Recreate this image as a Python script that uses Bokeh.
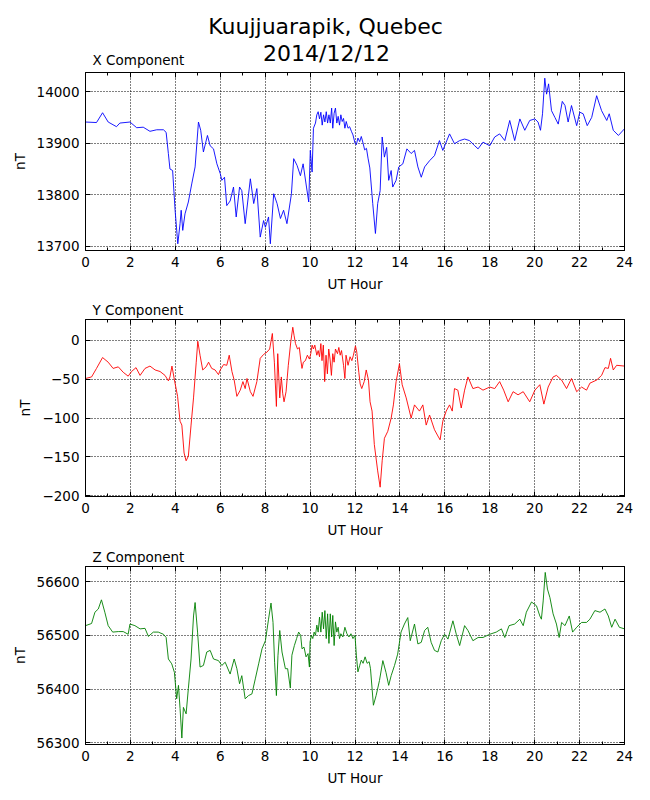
from bokeh.plotting import figure
from bokeh.models import LinearAxis, FixedTicker, Range1d
from bokeh.core.properties import value
from bokeh.layouts import column
from bokeh.embed import file_html
from bokeh.resources import INLINE

TITLE_1 = "Kuujjuarapik, Quebec"
TITLE_2 = "2014/12/12"
PANEL_TITLES = ["X Component", "Y Component", "Z Component"]
X_LABEL = "UT Hour"
Y_LABEL = "nT"

HOUR_TICKS = [0, 2, 4, 6, 8, 10, 12, 14, 16, 18, 20, 22, 24]
HOUR_MINOR = [1, 3, 5, 7, 9, 11, 13, 15, 17, 19, 21, 23]
X_TICKS = [13700, 13800, 13900, 14000]
Y_TICKS = [-200, -150, -100, -50, 0]
Z_TICKS = [56300, 56400, 56500, 56600]
X_LIMITS = (13692, 14037)
Y_LIMITS = (-201, 27)
Z_LIMITS = (56297, 56628)

X_HOURS = ([0.00, 0.49, 0.76, 1.01, 1.38, 1.53, 1.98, 2.28, 2.57, 2.87,
            3.17, 3.47, 3.59, 3.69, 3.76, 3.88, 3.99, 4.11, 4.21, 4.26,
            4.33, 4.43, 4.58, 4.73, 4.88, 5.03, 5.13, 5.25, 5.43, 5.55,
            5.70, 5.85, 6.00, 6.07, 6.19, 6.29, 6.44, 6.59, 6.71, 6.86,
            6.96, 7.11, 7.34, 7.49, 7.63, 7.78, 7.93, 8.01, 8.15, 8.23,
            8.38, 8.53, 8.68, 8.82, 8.97, 9.17, 9.27, 9.42, 9.57, 9.69,
            9.84, 9.94, 10.01, 10.09]
           + [10.15, 10.24, 10.30, 10.36, 10.42, 10.48, 10.54, 10.60, 10.66, 10.72,
              10.78, 10.84, 10.90, 10.96, 11.01, 11.07, 11.13, 11.19, 11.25, 11.31,
              11.37, 11.43, 11.49, 11.55, 11.61, 11.69, 11.76, 11.84, 11.91, 12.00,
              12.06, 12.13, 12.21, 12.28, 12.36, 12.43, 12.51, 12.58, 12.66]
           + [12.79, 12.91, 13.01, 13.12, 13.21, 13.31, 13.41, 13.50, 13.61, 13.68,
              13.83, 13.95, 14.13, 14.31, 14.50, 14.65, 14.80, 14.95, 15.10, 15.32,
              15.54, 15.76, 15.91, 16.06, 16.21, 16.43, 16.66, 16.88, 17.10, 17.33,
              17.48, 17.70, 18.00, 18.22, 18.44, 18.67, 18.89, 19.11, 19.34, 19.56,
              19.78, 20.01, 20.15, 20.26, 20.35, 20.45, 20.53, 20.62, 20.75, 20.90,
              21.05, 21.23, 21.35, 21.49, 21.64, 21.87, 22.01, 22.16, 22.34, 22.54,
              22.76, 22.98, 23.21, 23.32, 23.50, 23.73, 24.00])
X_VALUES = ([13941, 13940, 13959, 13941, 13932, 13939, 13941, 13930, 13931, 13923,
             13926, 13926, 13921, 13880, 13850, 13847, 13770, 13705, 13744, 13770,
             13731, 13763, 13786, 13821, 13854, 13941, 13925, 13883, 13915, 13895,
             13889, 13860, 13841, 13828, 13834, 13779, 13788, 13815, 13757, 13815,
             13808, 13744, 13831, 13783, 13812, 13718, 13750, 13737, 13757, 13705,
             13802, 13783, 13754, 13770, 13744, 13802, 13870, 13857, 13837, 13860,
             13815, 13786, 13886, 13844]
            + [13929, 13939, 13955, 13961, 13947, 13960, 13935, 13955, 13941, 13961,
               13939, 13955, 13939, 13968, 13929, 13958, 13968, 13939, 13952, 13935,
               13955, 13942, 13948, 13929, 13942, 13929, 13932, 13923, 13916, 13900,
               13897, 13910, 13903, 13913, 13900, 13887, 13890, 13871, 13852]
            + [13783, 13725, 13783, 13808, 13912, 13873, 13892, 13828, 13847, 13815,
               13828, 13854, 13860, 13889, 13880, 13886, 13854, 13834, 13854, 13866,
               13876, 13905, 13886, 13902, 13918, 13899, 13905, 13908, 13905, 13895,
               13889, 13902, 13895, 13912, 13918, 13905, 13944, 13905, 13947, 13925,
               13944, 13947, 13941, 13925, 13957, 14026, 13995, 14015, 13963, 13950,
               13937, 13981, 13973, 13941, 13973, 13934, 13960, 13957, 13934, 13950,
               13992, 13963, 13944, 13957, 13925, 13915, 13928])

Y_HOURS = ([0.00, 0.27, 0.49, 0.76, 1.01, 1.23, 1.46, 1.68, 1.90, 2.05,
            2.25, 2.43, 2.65, 2.87, 3.10, 3.32, 3.54, 3.69, 3.76, 3.85,
            3.96, 4.10, 4.21, 4.29, 4.39, 4.48, 4.58, 4.70, 4.81, 4.93,
            5.00, 5.10, 5.22, 5.37, 5.48, 5.62, 5.77, 5.92, 6.00, 6.15,
            6.29, 6.40, 6.52, 6.62, 6.74, 6.89, 7.01, 7.11, 7.19, 7.34,
            7.46, 7.63, 7.78, 7.93, 8.08, 8.20, 8.32, 8.41, 8.50, 8.56,
            8.65]
           + [8.72, 8.78, 8.84, 8.93, 9.03, 9.14, 9.23, 9.29, 9.35, 9.44,
              9.52, 9.58, 9.64, 9.70, 9.79, 9.88, 9.97, 10.03, 10.09, 10.15,
              10.21, 10.30, 10.36, 10.42, 10.48, 10.53, 10.59, 10.65, 10.71, 10.77,
              10.83, 10.89, 10.95, 11.01, 11.07, 11.13, 11.22, 11.28, 11.34, 11.40,
              11.49, 11.55, 11.60, 11.69, 11.78, 11.86, 11.93, 12.02, 12.08, 12.17,
              12.23, 12.30, 12.41, 12.50, 12.60, 12.67]
           + [12.76, 12.86, 13.01, 13.12, 13.21, 13.31, 13.46, 13.61, 13.71, 13.83,
              13.98, 14.10, 14.28, 14.50, 14.65, 14.87, 15.02, 15.17, 15.32, 15.54,
              15.69, 15.79, 15.91, 16.06, 16.21, 16.33, 16.43, 16.58, 16.73, 16.88,
              17.03, 17.25, 17.48, 17.70, 18.00, 18.22, 18.44, 18.62, 18.82, 19.04,
              19.26, 19.49, 19.78, 20.01, 20.23, 20.41, 20.60, 20.82, 20.97, 21.20,
              21.42, 21.64, 21.87, 22.09, 22.31, 22.46, 22.76, 22.98, 23.13, 23.28,
              23.38, 23.50, 23.65, 24.00])
Y_VALUES = ([-49, -47, -36, -22, -28, -36, -34, -41, -46, -40,
             -35, -45, -36, -33, -38, -40, -45, -52, -47, -33,
             -51, -72, -104, -109, -145, -155, -149, -109, -74, -28,
             -1, -19, -38, -34, -28, -36, -38, -44, -38, -31,
             -32, -19, -40, -51, -72, -64, -53, -62, -49, -66,
             -72, -53, -23, -18, -15, -11, 9, -28, -85, -17,
             -74]
            + [-47, -68, -79, -66, -32, -2, 17, 6, -4, -11,
               -9, -24, -36, -28, -26, -19, -24, -17, -6, -11,
               -6, -19, -13, -21, -4, -26, -6, -53, -19, -43,
               -11, -24, -45, -17, -28, -11, -17, -9, -19, -13,
               -32, -49, -19, -32, -21, -26, -19, -7, -15, -41,
               -56, -62, -53, -38, -51, -79]
            + [-91, -134, -168, -189, -155, -126, -117, -100, -83, -53,
               -30, -57, -74, -100, -83, -91, -83, -109, -96, -115,
               -123, -128, -104, -91, -83, -91, -62, -64, -87, -64,
               -47, -62, -60, -64, -60, -62, -53, -64, -79, -66,
               -70, -66, -79, -64, -57, -82, -60, -47, -45, -51,
               -62, -49, -66, -60, -64, -55, -51, -45, -35, -36,
               -23, -38, -32, -33])

Z_HOURS = ([0.00, 0.27, 0.42, 0.57, 0.71, 0.86, 1.01, 1.21, 1.46, 1.68,
            1.90, 1.98, 2.20, 2.43, 2.65, 2.80, 3.02, 3.24, 3.47, 3.59,
            3.69, 3.84, 3.96, 4.06, 4.14, 4.21, 4.29, 4.36, 4.48, 4.58,
            4.70, 4.81, 4.88, 4.99, 5.10, 5.25, 5.40, 5.55, 5.70, 5.92,
            6.07, 6.22, 6.44, 6.62, 6.74, 6.86, 6.96, 7.11, 7.26, 7.41,
            7.56, 7.71, 7.86, 8.01, 8.15, 8.26, 8.35, 8.42, 8.50, 8.57,
            8.65, 8.75, 8.90, 9.00, 9.12]
           + [9.19, 9.30, 9.40, 9.49, 9.58, 9.64, 9.73, 9.82, 9.91, 9.97,
              10.00, 10.06, 10.12, 10.18, 10.24, 10.30, 10.36, 10.42, 10.48, 10.54,
              10.60, 10.66, 10.72, 10.78, 10.84, 10.90, 10.96, 11.01, 11.07, 11.13,
              11.19, 11.25, 11.31, 11.37, 11.46, 11.55, 11.64, 11.73, 11.82, 11.91,
              12.00, 12.06, 12.13, 12.21, 12.28, 12.36, 12.45, 12.54, 12.63, 12.69]
           + [12.82, 12.94, 13.09, 13.24, 13.38, 13.50, 13.61, 13.76, 13.90, 14.05,
              14.20, 14.35, 14.46, 14.65, 14.80, 14.95, 15.10, 15.24, 15.39, 15.54,
              15.69, 15.84, 15.99, 16.14, 16.36, 16.51, 16.66, 16.88, 17.03, 17.25,
              17.48, 17.70, 18.00, 18.29, 18.52, 18.67, 18.86, 19.11, 19.34, 19.49,
              19.63, 19.86, 20.08, 20.23, 20.30, 20.38, 20.47, 20.57, 20.68, 20.82,
              20.97, 21.09, 21.20, 21.35, 21.54, 21.69, 21.87, 22.09, 22.31, 22.46,
              22.68, 22.91, 23.13, 23.28, 23.43, 23.58, 23.77, 24.00])
Z_VALUES = ([56518, 56522, 56543, 56549, 56566, 56543, 56518, 56506, 56507, 56507,
             56502, 56521, 56518, 56512, 56513, 56498, 56506, 56506, 56502, 56496,
             56456, 56447, 56431, 56382, 56407, 56364, 56309, 56366, 56354, 56401,
             56456, 56536, 56561, 56506, 56441, 56444, 56469, 56472, 56456, 56453,
             56444, 56450, 56428, 56456, 56438, 56410, 56425, 56382, 56388, 56391,
             56419, 56447, 56475, 56490, 56530, 56560, 56524, 56450, 56388, 56462,
             56509, 56469, 56438, 56438, 56402]
            + [56463, 56481, 56494, 56506, 56500, 56475, 56478, 56460, 56466, 56441,
               56488, 56500, 56494, 56506, 56500, 56519, 56506, 56534, 56506, 56543,
               56512, 56546, 56494, 56540, 56485, 56540, 56497, 56537, 56481, 56525,
               56506, 56515, 56494, 56503, 56497, 56515, 56503, 56497, 56503, 56494,
               56500, 56463, 56432, 56444, 56454, 56448, 56460, 56448, 56451, 56438]
            + [56370, 56388, 56416, 56453, 56431, 56407, 56425, 56444, 56465, 56506,
               56521, 56533, 56490, 56521, 56484, 56487, 56509, 56515, 56487, 56472,
               56469, 56490, 56502, 56493, 56527, 56502, 56481, 56518, 56509, 56490,
               56496, 56496, 56502, 56506, 56512, 56496, 56518, 56521, 56530, 56518,
               56543, 56562, 56555, 56536, 56530, 56564, 56617, 56586, 56570, 56540,
               56521, 56496, 56524, 56518, 56536, 56506, 56515, 56524, 56524, 56530,
               56546, 56543, 56549, 56536, 56515, 56530, 56515, 56512])

FONT = "DejaVu Sans"
TXT = "13.5px"
FIG_W = 644
BORDER_L = 85
BORDER_R = 20
FRAME_W = FIG_W - BORDER_L - BORDER_R
HEADER_H = 70


def style_axis(ax, show_labels):
    ax.axis_line_color = "black"
    ax.axis_line_width = 1
    ax.major_tick_line_color = "black"
    ax.minor_tick_line_color = "black"
    ax.major_tick_in = 5
    ax.major_tick_out = 0
    ax.minor_tick_in = 3
    ax.minor_tick_out = 0
    ax.major_label_text_font = FONT
    ax.axis_label_text_font = FONT
    ax.axis_label_text_font_size = TXT
    ax.axis_label_text_font_style = "normal"
    ax.axis_label_text_color = "black"
    if show_labels:
        ax.major_label_text_font_size = TXT
        ax.major_label_text_color = "black"
        ax.major_label_standoff = 6
    else:
        ax.major_label_text_font_size = "1px"
        ax.major_label_text_color = None
        ax.major_label_standoff = 0


def panel(hours, values, color, title, limits, yticks, height, top, bottom):
    p = figure(width=FIG_W, height=height, output_backend="svg", toolbar_location=None,
               x_range=Range1d(0, 24), y_range=Range1d(*limits),
               min_border_left=BORDER_L, min_border_right=BORDER_R,
               min_border_top=top, min_border_bottom=bottom)
    p.background_fill_color = "white"
    p.border_fill_color = "white"
    p.outline_line_color = "black"
    p.outline_line_width = 1
    p.outline_line_alpha = 1

    xt = FixedTicker(ticks=HOUR_TICKS, minor_ticks=HOUR_MINOR)
    yt = FixedTicker(ticks=yticks, minor_ticks=[])

    xa = p.xaxis[0]
    xa.ticker = xt
    xa.axis_label = X_LABEL
    xa.axis_label_standoff = 6
    style_axis(xa, True)
    ya = p.yaxis[0]
    ya.ticker = yt
    ya.axis_label = Y_LABEL
    ya.axis_label_standoff = 6
    style_axis(ya, True)

    top_ax = LinearAxis(ticker=FixedTicker(ticks=HOUR_TICKS, minor_ticks=HOUR_MINOR))
    style_axis(top_ax, False)
    p.add_layout(top_ax, "above")
    right_ax = LinearAxis(ticker=FixedTicker(ticks=yticks, minor_ticks=[]))
    style_axis(right_ax, False)
    p.add_layout(right_ax, "right")

    p.xgrid.ticker = xt
    p.ygrid.ticker = yt
    for g in (p.xgrid[0], p.ygrid[0]):
        g.grid_line_color = "black"
        g.grid_line_width = 1
        g.grid_line_dash = "1 2"
        g.grid_line_alpha = 1

    if title:
        p.title.text = title
        p.title.align = "left"
        p.title.offset = 7
        p.title.text_font = FONT
        p.title.text_font_size = TXT
        p.title.text_font_style = "normal"
        p.title.text_color = "black"
        if "standoff" in p.title.properties():
            p.title.standoff = 3

    p.line(hours, values, line_color=color, line_width=0.9)
    return p


# header strip (its frame lines up with the panels' frames) holding the
# suptitle and the first panel's title
head = figure(width=FIG_W, height=HEADER_H, output_backend="svg", toolbar_location=None,
              x_range=Range1d(0, FRAME_W), y_range=Range1d(0, HEADER_H),
              x_axis_type=None, y_axis_type=None,
              min_border_left=BORDER_L, min_border_right=BORDER_R,
              min_border_top=0, min_border_bottom=0)
head.outline_line_color = None
head.background_fill_color = "white"
head.border_fill_color = "white"
head.grid.visible = False
head.text(x=[240], y=[44], text=[TITLE_1], text_align="center", text_baseline="middle",
          text_font=value(FONT), text_font_size="22px", text_color="black")
head.text(x=[241], y=[17], text=[TITLE_2], text_align="center", text_baseline="middle",
          text_font=value(FONT), text_font_size="22px", text_color="black")
head.text(x=[7], y=[11], text=[PANEL_TITLES[0]], text_align="left",
          text_baseline="middle", text_font=value(FONT), text_font_size=TXT,
          text_color="black")

p1 = panel(X_HOURS, X_VALUES, "#0000ff", None, X_LIMITS, X_TICKS, 227, 2, 47)
p2 = panel(Y_HOURS, Y_VALUES, "#ff0000", PANEL_TITLES[1], Y_LIMITS, Y_TICKS, 247, 22, 48)
p3 = panel(Z_HOURS, Z_VALUES, "#008000", PANEL_TITLES[2], Z_LIMITS, Z_TICKS, 247, 22, 47)

layout = column(head, p1, p2, p3, spacing=0)
open("out.html", "w").write(file_html(layout, INLINE, "Kuujjuarapik, Quebec 2014/12/12"))
